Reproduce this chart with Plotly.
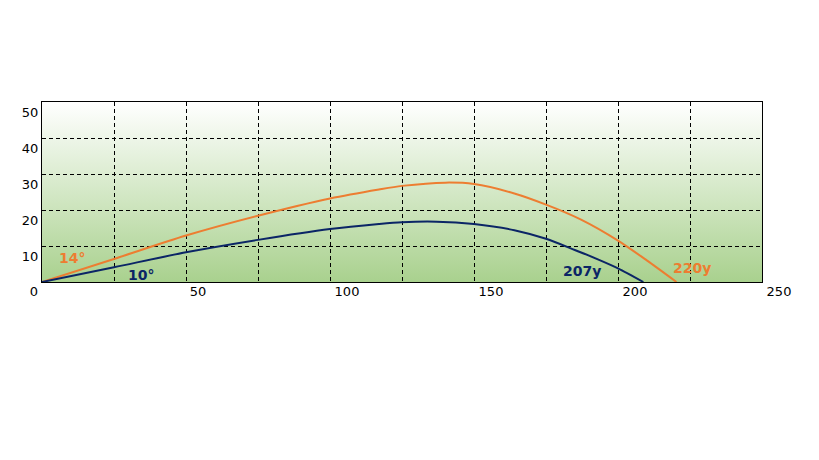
import base64
import plotly.graph_objects as go

# ---- data ----
angle_labels = ["14°", "10°"]
range_labels = ["220y", "207y"]

orange_x = [0, 25, 50, 75, 100, 117, 125, 140, 150, 164, 175, 187, 200, 210, 220.3]
orange_y = [0, 6.4, 12.9, 18.4, 23.2, 25.7, 26.7, 27.6, 27.2, 24.6, 21.5, 17.4, 11.5, 6.0, 0]

navy_x = [0, 25, 50, 75, 100, 117, 125, 137, 150, 164, 175, 185, 193, 200, 208.8]
navy_y = [0, 4.1, 8.25, 11.7, 14.7, 16.1, 16.6, 16.75, 16.1, 14.4, 12.0, 8.9, 6.3, 3.8, 0]

x_tick_vals = [0, 50, 100, 150, 200, 250]
x_grid_vals = [25, 50, 75, 100, 125, 150, 175, 200, 225]
y_tick_vals = [10, 20, 30, 40, 50]

ORANGE = "#ED7D31"
NAVY = "#0B2566"
FONT = "DejaVu Sans"

fig = go.Figure()
fig.add_trace(go.Scatter(x=orange_x, y=orange_y, mode="lines",
                         line=dict(color=ORANGE, width=2, shape="spline", smoothing=0.8),
                         hoverinfo="skip", showlegend=False))
fig.add_trace(go.Scatter(x=navy_x, y=navy_y, mode="lines",
                         line=dict(color=NAVY, width=2, shape="spline", smoothing=0.8),
                         hoverinfo="skip", showlegend=False))

# gradient background as svg image under the grid
svg = ('<svg xmlns="http://www.w3.org/2000/svg" width="100" height="100" viewBox="0 0 100 100" '
       'preserveAspectRatio="none"><defs><linearGradient id="g" x1="0" y1="0" x2="0" y2="1">'
       '<stop offset="0" stop-color="#FFFFFF"/><stop offset="1" stop-color="#A9D18E"/>'
       '</linearGradient></defs><rect x="0" y="0" width="100" height="100" fill="url(#g)"/></svg>')
uri = "data:image/svg+xml;base64," + base64.b64encode(svg.encode()).decode()

tick_font = dict(family=FONT, size=13, color="#000000")
grid_common = dict(showgrid=True, gridcolor="#000000", gridwidth=1, griddash="4px,3px")

xr = [0, 250]
label_axis = dict(range=xr, overlaying="x", anchor="y", matches="x", showgrid=False,
                  zeroline=False, showline=False, ticks="", tickfont=tick_font, automargin=False)
layout = dict(
    width=811, height=452,
    margin=dict(l=34, r=57, t=94, b=178, autoexpand=False),
    paper_bgcolor="white", plot_bgcolor="white",
    showlegend=False,
    images=[dict(source=uri, xref="x domain", yref="y domain", x=0, y=1, sizex=1, sizey=1,
                 xanchor="left", yanchor="top", sizing="stretch", layer="below")],
    xaxis=dict(range=xr, tickvals=x_grid_vals, showticklabels=False, ticks="", automargin=False,
               zeroline=False, showline=True, linecolor="#000000", linewidth=1, mirror=True,
               **grid_common),
    xaxis2=dict(tickvals=[v for v in x_tick_vals if v >= 100],
                ticktext=[str(v) for v in x_tick_vals if v >= 100],
                ticklabelshift=17, **label_axis),
    xaxis3=dict(tickvals=[x_tick_vals[1]], ticktext=[str(x_tick_vals[1])],
                ticklabelshift=12, **label_axis),
    xaxis4=dict(tickvals=[x_tick_vals[0]], ticktext=[str(x_tick_vals[0])],
                ticklabelshift=-8, **label_axis),
    yaxis=dict(range=[0, 50], tickvals=y_tick_vals, ticktext=[str(v) for v in y_tick_vals],
               ticklabelshift=10, ticks="", tickfont=tick_font, automargin=False,
               zeroline=False, showline=True, linecolor="#000000", linewidth=1, mirror=True,
               **grid_common),
)
fig.update_layout(**layout)

# invisible traces so the overlay label axes are drawn
for ax in ["x2", "x3", "x4"]:
    fig.add_trace(go.Scatter(x=[None], y=[None], xaxis=ax, yaxis="y", mode="lines",
                             showlegend=False, hoverinfo="skip"))

ann_font = dict(family=FONT, size=14)
fig.add_annotation(x=10.4, y=6.8, text="<b>%s</b>" % angle_labels[0], showarrow=False,
                   font=dict(color=ORANGE, **ann_font))
fig.add_annotation(x=34.4, y=1.9, text="<b>%s</b>" % angle_labels[1], showarrow=False,
                   font=dict(color=NAVY, **ann_font))
fig.add_annotation(x=225.7, y=3.9, text="<b>%s</b>" % range_labels[0], showarrow=False,
                   font=dict(color=ORANGE, **ann_font))
fig.add_annotation(x=187.5, y=3.0, text="<b>%s</b>" % range_labels[1], showarrow=False,
                   font=dict(color=NAVY, **ann_font))

fig.write_html("out.html")
